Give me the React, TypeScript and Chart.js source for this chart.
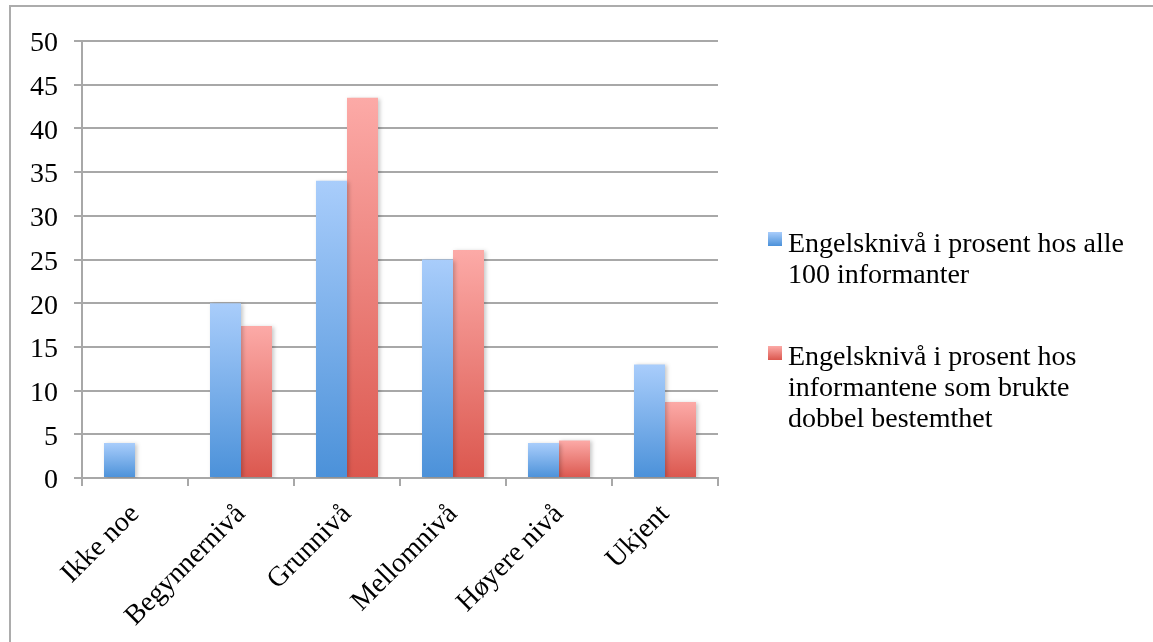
import React, { useEffect, useRef } from "react";
import { Chart, registerables } from "chart.js";

Chart.register(...registerables);

const categories = ["Ikke noe", "Begynnernivå", "Grunnivå", "Mellomnivå", "Høyere nivå", "Ukjent"];
const allInformants = [4, 20, 34, 25, 4, 13];
const doubleDefinite = [0, 17.4, 43.5, 26.1, 4.3, 8.7];
const yMin = 0;
const yMax = 50;
const yStep = 5;
const legendLabels = [
  ["Engelsknivå i prosent hos alle", "100 informanter"],
  ["Engelsknivå i prosent hos", "informantene som brukte", "dobbel bestemthet"],
];

const BLUE_TOP = "#a9cdfb";
const BLUE_BOTTOM = "#4b91d9";
const RED_TOP = "#fcaaa7";
const RED_BOTTOM = "#db574e";
const GRID = "#a8a8a8";
const FONT = "'Liberation Serif', 'Times New Roman', serif";

const makeGradient = (top: string, bottom: string) => (ctx: any) => {
  const chart = ctx.chart;
  const y = chart.scales && chart.scales.y;
  if (!y || ctx.type !== "data") return bottom;
  const v = ctx.raw as number;
  const yTop = y.getPixelForValue(v);
  const yBot = y.getPixelForValue(0);
  if (!isFinite(yTop) || !isFinite(yBot) || Math.abs(yBot - yTop) < 0.5) return bottom;
  const g = chart.ctx.createLinearGradient(0, yTop, 0, yBot);
  g.addColorStop(0, top);
  g.addColorStop(1, bottom);
  return g;
};

const shadowPlugin = {
  id: "barShadow",
  beforeDatasetsDraw(chart: any) {
    const c = chart.ctx;
    c.save();
    c.shadowColor = "rgba(0,0,0,0.22)";
    c.shadowBlur = 4;
    c.shadowOffsetX = 2;
    c.shadowOffsetY = 1;
  },
  afterDatasetsDraw(chart: any) {
    chart.ctx.restore();
  },
};

export default function App() {
  const canvasRef = useRef<HTMLCanvasElement | null>(null);

  useEffect(() => {
    if (!canvasRef.current) return;
    const chart = new Chart(canvasRef.current, {
      type: "bar",
      data: {
        labels: categories,
        datasets: [
          {
            label: legendLabels[0].join(" "),
            data: allInformants,
            backgroundColor: makeGradient(BLUE_TOP, BLUE_BOTTOM),
            borderWidth: 0,
            categoryPercentage: 0.585,
            barPercentage: 1,
          },
          {
            label: legendLabels[1].join(" "),
            data: doubleDefinite,
            backgroundColor: makeGradient(RED_TOP, RED_BOTTOM),
            borderWidth: 0,
            categoryPercentage: 0.585,
            barPercentage: 1,
          },
        ],
      },
      options: {
        responsive: false,
        animation: false,
        layout: { padding: { left: 0, right: 435, top: 41, bottom: 0 } },
        plugins: {
          legend: { display: false },
          tooltip: { enabled: false },
        },
        scales: {
          x: {
            grid: {
              offset: true,
              drawOnChartArea: false,
              drawTicks: true,
              tickLength: 8,
              color: GRID,
              lineWidth: 2,
            },
            border: { display: true, color: GRID, width: 2 },
            ticks: {
              color: "#000",
              font: { family: FONT, size: 28 },
              minRotation: 45,
              maxRotation: 45,
              padding: 12,
              autoSkip: false,
            },
            afterFit: (scale: any) => {
              scale.height = 164;
            },
          },
          y: {
            min: yMin,
            max: yMax,
            ticks: {
              stepSize: yStep,
              color: "#000",
              font: { family: FONT, size: 28 },
              padding: 16,
              labelOffset: 3,
            },
            grid: {
              color: GRID,
              lineWidth: 2,
              tickLength: 8,
              drawTicks: true,
            },
            border: { display: true, color: GRID, width: 2 },
            afterFit: (scale: any) => {
              scale.width = 82;
            },
          },
        },
      },
      plugins: [shadowPlugin],
    });
    return () => chart.destroy();
  }, []);

  const boxTops = [232, 346];
  const textTops = [226.5, 339.5];

  return (
    <div
      style={{
        position: "fixed",
        left: 0,
        top: 0,
        width: 1153,
        height: 642,
        overflow: "hidden",
        background: "#fff",
      }}
    >
      <div
        style={{
          position: "absolute",
          left: 9,
          top: 5,
          width: 1200,
          height: 700,
          border: "2px solid #acacac",
          boxSizing: "border-box",
        }}
      />
      <canvas
        ref={canvasRef}
        width={1153}
        height={642}
        style={{ position: "absolute", left: 0, top: 0, width: 1153, height: 642 }}
      />
      {legendLabels.map((lines, i) => (
        <React.Fragment key={i}>
          <div
            style={{
              position: "absolute",
              left: 768,
              top: boxTops[i],
              width: 14,
              height: 14,
              background: `linear-gradient(to bottom, ${i === 0 ? BLUE_TOP : RED_TOP}, ${i === 0 ? BLUE_BOTTOM : RED_BOTTOM})`,
            }}
          />
          <div
            style={{
              position: "absolute",
              left: 788,
              top: textTops[i],
              fontFamily: FONT,
              fontSize: 28,
              lineHeight: "31px",
              color: "#000",
              whiteSpace: "nowrap",
            }}
          >
            {lines.map((l, j) => (
              <div key={j}>{l}</div>
            ))}
          </div>
        </React.Fragment>
      ))}
    </div>
  );
}
